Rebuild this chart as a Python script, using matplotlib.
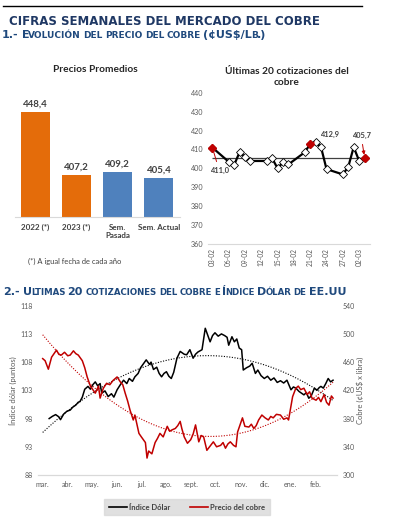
import numpy as np
import pandas as pd
import matplotlib
matplotlib.use('Agg')
import matplotlib.pyplot as plt
import matplotlib.dates as mdates
from matplotlib.lines import Line2D

W, H = 396, 526

# ---- datos: precios promedio
bar_labels = ['2022 (*)', '2023 (*)', 'Sem.\nPasada', 'Sem. Actual']
bar_values = [448.4, 407.2, 409.2, 405.4]
bar_colors = ['#E46C0A', '#E46C0A', '#4F81BD', '#4F81BD']

# ---- datos: ultimas cotizaciones
cot_fechas = ['2023-02-03', '2023-02-06', '2023-02-07', '2023-02-08', '2023-02-09', '2023-02-10',
              '2023-02-13', '2023-02-14', '2023-02-15', '2023-02-16', '2023-02-17', '2023-02-20',
              '2023-02-21', '2023-02-22', '2023-02-23', '2023-02-24', '2023-02-27', '2023-02-28',
              '2023-03-01', '2023-03-02', '2023-03-03']
cot_valores = [411.0, 403.5, 401.7, 408.5, 406.1, 403.9, 403.9, 405.3, 400.0, 403.2, 402.1, 408.5,
               412.9, 414.1, 411.1, 399.6, 396.8, 400.8, 411.2, 404.0, 405.7]
cot_marcados = [0, 12, 20]

# ---- datos: indice dolar
dxy_fechas = ['2022-03-09', '2022-03-13', '2022-03-17', '2022-03-21', '2022-03-23', '2022-03-27',
              '2022-03-31', '2022-04-04', '2022-04-07', '2022-04-11', '2022-04-14', '2022-04-16',
              '2022-04-19', '2022-04-22', '2022-04-26', '2022-04-29', '2022-05-02', '2022-05-05',
              '2022-05-08', '2022-05-11', '2022-05-13', '2022-05-17', '2022-05-21', '2022-05-25',
              '2022-05-28', '2022-06-01', '2022-06-05', '2022-06-09', '2022-06-13', '2022-06-16',
              '2022-06-20', '2022-06-23', '2022-06-27', '2022-06-30', '2022-07-04', '2022-07-07',
              '2022-07-11', '2022-07-13', '2022-07-16', '2022-07-20', '2022-07-23', '2022-07-26',
              '2022-07-29', '2022-08-01', '2022-08-04', '2022-08-07', '2022-08-10', '2022-08-14',
              '2022-08-18', '2022-08-23', '2022-08-26', '2022-08-30', '2022-09-03', '2022-09-06',
              '2022-09-09', '2022-09-14', '2022-09-18', '2022-09-21', '2022-09-24', '2022-09-27',
              '2022-09-30', '2022-10-04', '2022-10-08', '2022-10-12', '2022-10-15', '2022-10-17',
              '2022-10-21', '2022-10-24', '2022-10-27', '2022-10-30', '2022-11-02', '2022-11-04',
              '2022-11-08', '2022-11-12', '2022-11-15', '2022-11-19', '2022-11-22', '2022-11-26',
              '2022-11-30', '2022-12-04', '2022-12-08', '2022-12-12', '2022-12-16', '2022-12-20',
              '2022-12-24', '2022-12-28', '2023-01-02', '2023-01-05', '2023-01-08', '2023-01-12',
              '2023-01-15', '2023-01-18', '2023-01-21', '2023-01-24', '2023-01-27', '2023-01-31',
              '2023-02-03', '2023-02-06', '2023-02-08', '2023-02-11', '2023-02-14', '2023-02-17',
              '2023-02-20', '2023-02-23']
dxy_valores = [98.0, 98.4, 98.7, 98.3, 97.8, 98.8,
               99.3, 99.5, 100.0, 100.4, 100.9, 101.0,
               101.8, 103.2, 103.7, 103.2, 104.0, 104.5,
               103.8, 104.2, 102.5, 102.9, 101.9, 102.4,
               101.8, 103.1, 104.0, 104.8, 104.2, 105.1,
               104.6, 105.4, 106.0, 107.0, 107.8, 108.4,
               107.6, 108.0, 106.7, 107.1, 106.0, 105.4,
               106.0, 106.3, 105.5, 105.1, 106.2, 108.7,
               109.9, 109.4, 109.3, 110.2, 108.7, 109.4,
               109.8, 110.2, 114.0, 112.8, 111.6, 112.7,
               113.2, 112.6, 113.0, 112.7, 112.4, 111.0,
               112.5, 111.6, 112.1, 110.5, 110.2, 106.6,
               107.0, 107.3, 107.8, 106.0, 106.6, 105.6,
               105.1, 105.5, 104.8, 105.2, 104.4, 104.7,
               104.3, 104.8, 103.1, 103.6, 103.4, 102.8,
               102.5, 102.2, 102.6, 101.6, 102.0, 103.4,
               103.0, 103.5, 103.7, 103.4, 104.2, 105.1,
               104.5, 104.8]

# ---- datos: precio del cobre
cu_fechas = ['2022-03-01', '2022-03-04', '2022-03-08', '2022-03-12', '2022-03-15', '2022-03-18',
             '2022-03-21', '2022-03-24', '2022-03-28', '2022-04-01', '2022-04-04', '2022-04-08',
             '2022-04-11', '2022-04-14', '2022-04-19', '2022-04-22', '2022-04-25', '2022-04-29',
             '2022-05-02', '2022-05-05', '2022-05-09', '2022-05-11', '2022-05-15', '2022-05-19',
             '2022-05-23', '2022-05-27', '2022-06-01', '2022-06-05', '2022-06-08', '2022-06-11',
             '2022-06-14', '2022-06-17', '2022-06-21', '2022-06-23', '2022-06-28', '2022-07-01',
             '2022-07-06', '2022-07-08', '2022-07-10', '2022-07-14', '2022-07-18', '2022-07-21',
             '2022-07-24', '2022-07-28', '2022-08-02', '2022-08-05', '2022-08-08', '2022-08-12',
             '2022-08-15', '2022-08-18', '2022-08-20', '2022-08-23', '2022-08-27', '2022-08-31',
             '2022-09-03', '2022-09-06', '2022-09-10', '2022-09-13', '2022-09-16', '2022-09-20',
             '2022-09-24', '2022-09-28', '2022-10-02', '2022-10-07', '2022-10-10', '2022-10-13',
             '2022-10-16', '2022-10-19', '2022-10-23', '2022-10-26', '2022-10-28', '2022-11-03',
             '2022-11-06', '2022-11-11', '2022-11-14', '2022-11-17', '2022-11-20', '2022-11-23',
             '2022-11-27', '2022-12-01', '2022-12-05', '2022-12-08', '2022-12-11', '2022-12-15',
             '2022-12-20', '2022-12-24', '2022-12-28', '2022-12-30', '2023-01-04', '2023-01-08',
             '2023-01-11', '2023-01-14', '2023-01-18', '2023-01-22', '2023-01-25', '2023-01-28',
             '2023-02-02', '2023-02-05', '2023-02-08', '2023-02-12', '2023-02-15', '2023-02-18',
             '2023-02-21', '2023-02-23']
cu_valores = [465, 462, 450, 467, 472, 477,
              471, 470, 474, 469, 470, 476,
              472, 470, 462, 452, 439, 426,
              421, 416, 426, 409, 423, 430,
              428, 434, 439, 432, 428, 416,
              405, 392, 378, 385, 359, 354,
              346, 324, 334, 330, 346, 352,
              359, 354, 369, 362, 364, 366,
              370, 376, 366, 354, 345, 350,
              358, 371, 347, 356, 354, 335,
              341, 347, 340, 342, 346, 338,
              344, 347, 342, 340, 361, 381,
              369, 368, 372, 366, 370, 378,
              385, 381, 378, 383, 381, 386,
              385, 379, 381, 378, 411, 423,
              426, 421, 423, 414, 418, 409,
              406, 410, 404, 414, 403, 399,
              412, 409]

meses = ['mar.', 'abr.', 'may.', 'jun.', 'jul.', 'ago.', 'sept.', 'oct.', 'nov.', 'dic.', 'ene.', 'feb.']

AZUL_TIT = '#1F3864'
AZUL_SUB = '#1F497D'
GRIS = '#595959'
TXT = '#404040'
ROJO = '#C00000'
FUENTE = 'Lato'

fig = plt.figure(figsize=(W / 100, H / 100), dpi=100)
fig.patch.set_facecolor('white')
r = fig.canvas.get_renderer()


def ax_px(l, t, rr, b):
    return fig.add_axes([l / W, 1 - b / H, (rr - l) / W, (b - t) / H])


def versalitas(x, y, texto, grande, chica, color):
    # imita las versalitas de Word: minusculas en mayusculas mas chicas
    runs = []
    for ch in texto:
        if ch == ' ':
            runs.append((' ', None))
            continue
        k = 'c' if ch.islower() else 'g'
        if runs and runs[-1][1] == k:
            runs[-1] = (runs[-1][0] + ch, k)
        else:
            runs.append((ch, k))
    xp = x
    size = grande
    for s, k in runs:
        if k is None:
            xp += 0.36 * size * 100 / 72
            continue
        size = chica if k == 'c' else grande
        t = fig.text(xp / W, 1 - y / H, s.upper(), fontsize=size, fontweight='bold',
                     color=color, family='DejaVu Sans', ha='left', va='baseline')
        xp += t.get_window_extent(r).width - 0.9


# encabezados
fig.add_artist(Line2D([3 / W, 362 / W], [1 - 6 / H, 1 - 6 / H], color='black', lw=1.0))
fig.text(9 / W, 1 - 25 / H, 'CIFRAS SEMANALES DEL MERCADO DEL COBRE', fontsize=8.5,
         fontweight='bold', color=AZUL_TIT, family='DejaVu Sans', ha='left', va='baseline')
versalitas(2, 38, '1.- Evolución del precio del cobre (¢US$/Lb.)', 8.0, 6.5, AZUL_SUB)
versalitas(3, 295, '2.- Ultimas 20 cotizaciones del cobre e Índice Dólar de EE.UU', 8.0, 6.2, AZUL_SUB)

# ---- barras
ax1 = ax_px(14.7, 94.5, 179.5, 216.7)
x1 = np.arange(len(bar_values))
ax1.bar(x1, bar_values, width=0.7, color=bar_colors, bottom=0)
ax1.set_ylim(380, 460)
ax1.set_xlim(-0.5, 3.5)
for i, v in enumerate(bar_values):
    ax1.annotate(f'{v:.1f}'.replace('.', ','), (i, v), xytext=(0, 2.5), textcoords='offset points',
                 ha='center', va='bottom', fontsize=7, fontweight='bold', color=TXT, family=FUENTE)
ax1.set_xticks(x1)
ax1.set_xticklabels(bar_labels, fontsize=5.8, fontweight='bold', color=TXT, family=FUENTE)
ax1.tick_params(axis='x', length=0, pad=5)
ax1.set_yticks([])
for s in ['top', 'left', 'right']:
    ax1.spines[s].set_visible(False)
ax1.spines['bottom'].set_color('#D9D9D9')
fig.text(95 / W, 1 - 69 / H, 'Precios Promedios', fontsize=7.3, fontweight='bold', color='#262626',
         family=FUENTE, ha='center', va='center')
fig.text(28 / W, 1 - 261 / H, '(*) A igual fecha de cada año', fontsize=5.4, color=TXT,
         family=FUENTE, ha='left', va='center')

# ---- ultimas cotizaciones
ax2 = ax_px(208, 92.7, 370, 244)
fx = mdates.date2num(pd.to_datetime(cot_fechas))
ax2.hlines(np.mean(cot_valores), fx[0], fx[-1], color='#404040', lw=0.9, zorder=1)
ax2.plot(fx, cot_valores, color='black', lw=1.6, marker='D', ms=3.6, mfc='white', mec='black',
         mew=0.6, zorder=3)
ax2.plot(fx[cot_marcados], np.array(cot_valores)[cot_marcados], 'D', ms=3.6, mfc=ROJO, mec=ROJO, zorder=4)
ax2.set_xlim(fx[0] - 0.8, fx[0] + 29.0)
ax2.set_ylim(360, 440)
ax2.set_yticks(range(360, 441, 10))
ax2.set_yticklabels([str(v) for v in range(360, 441, 10)], fontsize=5.2, color=GRIS, family=FUENTE)
ticks2 = fx[0] + np.arange(0, 28, 3)
ax2.set_xticks(ticks2)
ax2.set_xticklabels([mdates.num2date(t).strftime('%d-%m') for t in ticks2], rotation=90,
                    fontsize=4.8, color=GRIS, family=FUENTE)
ax2.tick_params(length=0, pad=3)
for s in ['top', 'left', 'right']:
    ax2.spines[s].set_visible(False)
ax2.spines['bottom'].set_color('#D9D9D9')
ax2.patch.set_alpha(0)
anot = dict(fontsize=5.4, fontweight='bold', color=TXT, family=FUENTE)
i0, i1, i2 = cot_marcados
ax2.annotate('411,0', (fx[i0], cot_valores[i0]), xytext=(5, -14), textcoords='offset points',
             ha='center', va='top', arrowprops=dict(arrowstyle='-', color=ROJO, lw=0.7), **anot)
ax2.annotate('412,9', (fx[i1], cot_valores[i1]), xytext=(7, 6.5), textcoords='offset points',
             ha='left', va='center', arrowprops=dict(arrowstyle='-', color=ROJO, lw=0.7), **anot)
ax2.annotate('405,7', (fx[i2], cot_valores[i2]), xytext=(-2.5, 16), textcoords='offset points',
             ha='center', va='center',
             arrowprops=dict(arrowstyle='-|>', color=ROJO, lw=0.7, mutation_scale=5), **anot)
fig.text(287 / W, 1 - 77 / H, 'Últimas 20 cotizaciones del\ncobre', fontsize=7.3, fontweight='bold',
         color='#262626', family=FUENTE, ha='center', va='center', linespacing=1.25)

# ---- indice dolar y cobre
ax3 = ax_px(38, 305.7, 337, 475)
ax4 = ax3.twinx()
dx = mdates.date2num(pd.to_datetime(dxy_fechas))
cx = mdates.date2num(pd.to_datetime(cu_fechas))
ax3.plot(dx, dxy_valores, color='black', lw=1.1)
ax4.plot(cx, cu_valores, color=ROJO, lw=1.1)

# lineas de tendencia polinomicas (orden 2)
xt = np.linspace(min(dx[0], cx[0]), max(dx[-1], cx[-1]), 200)
ax3.plot(xt, np.polyval(np.polyfit(dx, dxy_valores, 2), xt), color='black', lw=0.8, ls=(0, (1, 1.4)))
ax4.plot(xt, np.polyval(np.polyfit(cx, cu_valores, 2), xt), color=ROJO, lw=0.8, ls=(0, (1, 1.4)))

t0 = mdates.date2num(pd.Timestamp('2022-03-01'))
ax3.set_xlim(t0 - 5.8, t0 + 363.9)
ax3.set_ylim(88, 118)
ax4.set_ylim(300, 540)
ax3.set_yticks(range(88, 119, 5))
ax4.set_yticks(range(300, 541, 40))
ax3.set_yticklabels([str(v) for v in range(88, 119, 5)], fontsize=5, color=GRIS, family=FUENTE)
ax4.set_yticklabels([str(v) for v in range(300, 541, 40)], fontsize=5, color=GRIS, family=FUENTE)
mt = mdates.date2num(pd.date_range('2022-03-01', '2023-02-01', freq='MS'))
ax3.set_xticks(mt)
ax3.set_xticklabels(meses, fontsize=5, color=GRIS, family=FUENTE)
ax3.tick_params(length=0, pad=4)
ax4.tick_params(length=0, pad=4)
for a in (ax3, ax4):
    for s in ['top', 'left', 'right']:
        a.spines[s].set_visible(False)
    a.spines['bottom'].set_color('#D9D9D9')
ax3.set_ylabel('Índice dólar (puntos)', fontsize=5.5, color=GRIS, family=FUENTE, labelpad=2)
ax4.set_ylabel('Cobre (¢US$ x libra)', fontsize=5.5, color=GRIS, family=FUENTE, labelpad=1)

leg = fig.legend([Line2D([], [], color='black', lw=1.2), Line2D([], [], color=ROJO, lw=1.2)],
                 ['Índice Dólar', 'Precio del cobre'], loc='center', bbox_to_anchor=(187 / W, 1 - 507 / H),
                 ncol=2, frameon=True, fancybox=False, facecolor='#D9D9D9', edgecolor='#D9D9D9',
                 prop=dict(family=FUENTE, size=5.5, weight='bold'), handlelength=2.4,
                 columnspacing=2.5, borderpad=0.6, handletextpad=0.3)
for t in leg.get_texts():
    t.set_color(TXT)

fig.savefig('out.png', dpi=100, facecolor='white')
